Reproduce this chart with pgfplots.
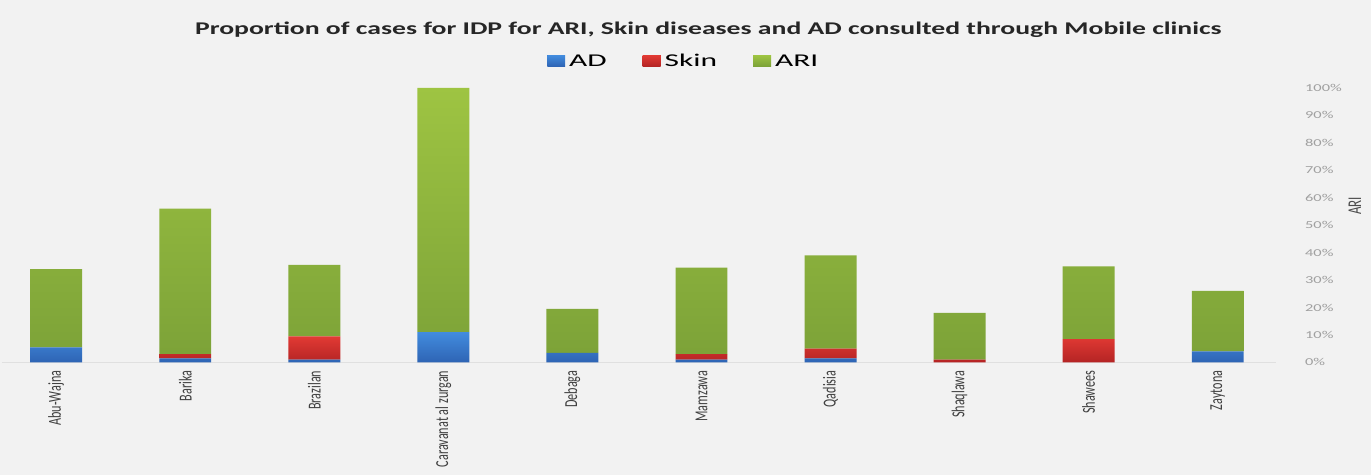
\documentclass[border=0pt]{standalone}
\usepackage{pgfplots}
\pgfplotsset{compat=1.18}
\usepackage{fontspec}
\setmainfont{Carlito}
\newfontfamily\wide[FakeStretch=1.55]{Carlito}
\newfontfamily\wider[FakeStretch=1.75]{Carlito}
\usetikzlibrary{backgrounds}
\definecolor{bg}{HTML}{F2F2F2}
\definecolor{tickgray}{HTML}{A0A0A0}
\definecolor{adT}{RGB}{66,140,222}
\definecolor{adB}{RGB}{46,100,180}
\definecolor{adM}{RGB}{55,120,205}
\definecolor{skT}{RGB}{226,58,52}
\definecolor{skB}{RGB}{180,36,36}
\definecolor{skM}{RGB}{210,45,45}
\definecolor{arT}{RGB}{158,196,66}
\definecolor{arB}{RGB}{124,162,56}
\definecolor{arM}{RGB}{140,180,60}
\begin{document}
\begin{tikzpicture}[background rectangle/.style={fill=bg,draw=none},show background rectangle,inner frame sep=0pt]
\begin{axis}[
  name=ax,
  scale only axis,
  width=638pt, height=137.5pt,
  ybar stacked, bar width=26pt,
  xmin=-0.42, xmax=9.45,
  ymin=0, ymax=100,
  xtick=data,
  xticklabels={Abu-Wajna,Barika,Brazilan,Caravanat al zurgan,Debaga,Mamzawa,Qadisia,Shaqlawa,Shawees,Zaytona},
  xticklabel style={yshift=-4pt, rotate=90, yscale=1.5, anchor=east, inner sep=0pt, font=\fontsize{6.1}{7}\selectfont, text=black!75},
  ytick={0,10,...,100},
  yticklabel={\pgfmathprintnumber{\tick}\%},
  yticklabel pos=right,
  yticklabel style={font=\wide\fontsize{5.3}{6}\selectfont, text=tickgray, anchor=west, inner sep=0pt, xshift=14.5pt},
  /pgf/number format/assume math mode=true,
  axis y line*=right,
  axis x line*=bottom,
  y axis line style={draw=none},
  x axis line style={draw=black!12},
  major tick length=0pt,
  clip=false,
  legend style={at={(0.536,1.0945)}, anchor=center, draw=none, fill=none,
    legend columns=3, font=\wider\fontsize{9}{11}\selectfont,
    /tikz/every even column/.append style={column sep=16pt}},
]
\addplot[draw=none, top color=adT, bottom color=adB, legend image code/.code={\fill[adM] (0pt,-2.2pt) rectangle (9pt,3.3pt);}]
  coordinates {(0,5.5) (1,1.5) (2,1) (3,11) (4,3.5) (5,1) (6,1.5) (7,0) (8,0) (9,4)};
\addplot[draw=none, top color=skT, bottom color=skB, legend image code/.code={\fill[skM] (0pt,-2.2pt) rectangle (9pt,3.3pt);}]
  coordinates {(0,0) (1,1.5) (2,8.5) (3,0) (4,0) (5,2) (6,3.5) (7,1) (8,8.5) (9,0)};
\addplot[draw=none, top color=arT, bottom color=arB, legend image code/.code={\fill[arM] (0pt,-2.2pt) rectangle (9pt,3.3pt);}]
  coordinates {(0,28.5) (1,53) (2,26) (3,89) (4,16) (5,31.5) (6,34) (7,17) (8,26.5) (9,22)};
\legend{AD,Skin,ARI}
\node[font=\wide\bfseries\fontsize{8.95}{10}\selectfont, text=black!85] at (rel axis cs:0.5545,1.211) {Proportion of cases for IDP for ARI, Skin diseases and AD consulted through Mobile clinics};
\node[font=\fontsize{6.5}{7}\selectfont, text=black!70, rotate=90, yscale=1.5] at (rel axis cs:1.062,0.57) {ARI};
\end{axis}
\path ([shift={(-1pt,-56.5pt)}]ax.south west) rectangle ([shift={(684.5pt,181.5pt)}]ax.south west);
\end{tikzpicture}
\end{document}
